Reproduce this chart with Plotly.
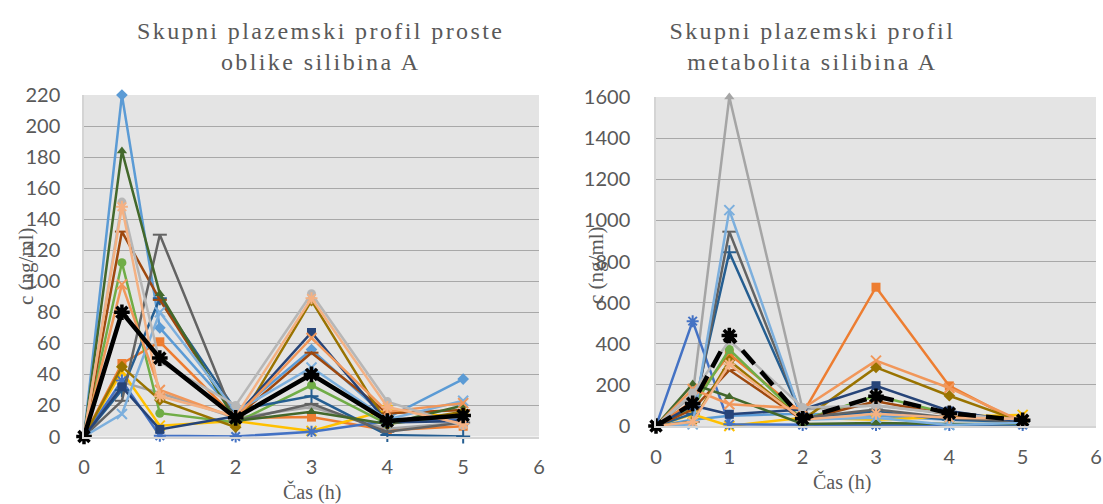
import plotly.graph_objects as go

# sampling times (h)
cas = [0, 0.5, 1, 2, 3, 4, 5]

# free silibin A, individual subjects (ng/ml)
prosta_01 = [0, 220, 70, 15, 56, 12, 37]
prosta_02 = [0, 47, 61, 12, 12.5, 4, 6.6]
prosta_03 = [0, 35, 28, 12, 19, 5, 9]
prosta_04 = [0, 42, 7, 10, 3.5, 17, 12]
prosta_05 = [0, 36, 0.5, 0, 3, 10, 11]
prosta_06 = [0, 112, 15, 9, 33, 8, 14]
prosta_07 = [0, 30, 89, 17, 26, 1, 0]
prosta_08 = [0, 132, 88, 12, 54, 15, 17]
prosta_09 = [0, 23, 130, 10, 21, 3, 9]
prosta_10 = [0, 45, 23.5, 6, 87.5, 8, 16]
prosta_11 = [0, 32, 4.6, 13, 67, 9, 10]
prosta_12 = [0, 184, 92, 10, 16, 8, 20]
prosta_13 = [0, 14.5, 80, 16, 44.5, 11, 23]
prosta_14 = [0, 98, 30, 12, 63.5, 16, 21.5]
prosta_15 = [0, 151, 48, 20, 92, 22.5, 7]
prosta_16 = [0, 148, 26, 13, 89, 19, 8]
prosta_mean = [0, 80, 50.5, 12, 40, 10, 13.5]

# silibin A metabolite, individual subjects (ng/ml)
metabolit_01 = [0, 30, 50, 60, 50, 30, 25]
metabolit_02 = [0, 120, 350, 60, 675, 195, 10]
metabolit_03 = [0, 150, 1600, 80, 100, 60, 30]
metabolit_04 = [0, 57, 0, 40, 30, 45, 54]
metabolit_05 = [0, 510, 8, 5, 5, 5, 5]
metabolit_06 = [0, 90, 372, 30, 147, 60, 20]
metabolit_07 = [0, 60, 845, 40, 70, 30, 20]
metabolit_08 = [0, 80, 272, 30, 120, 55, 25]
metabolit_09 = [0, 20, 945, 40, 80, 40, 20]
metabolit_10 = [0, 20, 318, 30, 285, 147, 20]
metabolit_11 = [0, 100, 57, 80, 196, 73, 20]
metabolit_12 = [0, 204, 142, 10, 15, 10, 10]
metabolit_13 = [0, 8, 1050, 30, 40, 5, 15]
metabolit_14 = [0, 180, 106, 85, 318, 185, 20]
metabolit_15 = [0, 160, 416, 90, 100, 60, 30]
metabolit_16 = [0, 20, 300, 30, 60, 40, 35]
metabolit_mean = [0, 110, 440, 35, 145, 62, 28]

prosta_series = [prosta_01, prosta_02, prosta_03, prosta_04, prosta_05, prosta_06,
                 prosta_07, prosta_08, prosta_09, prosta_10, prosta_11, prosta_12,
                 prosta_13, prosta_14, prosta_15, prosta_16]
metabolit_series = [metabolit_01, metabolit_02, metabolit_03, metabolit_04, metabolit_05,
                    metabolit_06, metabolit_07, metabolit_08, metabolit_09, metabolit_10,
                    metabolit_11, metabolit_12, metabolit_13, metabolit_14, metabolit_15,
                    metabolit_16]

y_ticks_prosta = [0, 20, 40, 60, 80, 100, 120, 140, 160, 180, 200, 220]
y_ticks_metabolit = [0, 200, 400, 600, 800, 1000, 1200, 1400, 1600]
x_ticks = [0, 1, 2, 3, 4, 5, 6]

# Office-style series colours and marker shapes
series_styles = [
    ("#5B9BD5", "diamond"), ("#ED7D31", "square"), ("#A5A5A5", "triangle-up"),
    ("#FFC000", "x-thin-open"), ("#4472C4", "asterisk-open"), ("#70AD47", "circle"),
    ("#255E91", "cross-thin-open"), ("#9E480E", "line-ew-open"), ("#636363", "line-ew-open"),
    ("#997300", "diamond"), ("#264478", "square"), ("#43682B", "triangle-up"),
    ("#7CAFDD", "x-thin-open"), ("#F1975A", "x-thin-open"), ("#B7B7B7", "circle"),
    ("#F4B183", "asterisk-open"),
]

W, H = 1103, 504
TXT = "#595959"
SERIF = "Liberation Serif"
SANS = "Lato"

fig = go.Figure()


def add_panel(series, mean, xa, ya, mean_dash):
    for vals, (col, sym) in zip(series, series_styles):
        open_sym = sym.endswith("open")
        fig.add_trace(go.Scatter(
            x=cas, y=vals, xaxis=xa, yaxis=ya, mode="lines+markers",
            line=dict(color=col, width=2.5),
            marker=dict(symbol=sym, size=10 if open_sym else 9, color=col,
                        line=dict(color=col, width=2 if open_sym else 0)),
            cliponaxis=False, showlegend=False, hoverinfo="skip"))
    fig.add_trace(go.Scatter(
        x=cas, y=mean, xaxis=xa, yaxis=ya, mode="lines+markers",
        line=dict(color="black", width=4.5, dash=mean_dash),
        marker=dict(symbol="asterisk-open", size=13, color="black",
                    line=dict(color="black", width=3.5)),
        cliponaxis=False, showlegend=False, hoverinfo="skip"))


add_panel(prosta_series, prosta_mean, "x", "y", "solid")
add_panel(metabolit_series, metabolit_mean, "x2", "y2", "18px,10px")


def px_x(p):
    return p / W


def px_y(p):
    return 1 - p / H


axis_common = dict(
    showgrid=False, zeroline=False, ticks="", automargin=False,
    tickfont=dict(family=SANS, size=20, color=TXT),
    showline=True, linecolor="#d4d4d4", linewidth=1.5, fixedrange=True,
)
yaxis_common = dict(
    showgrid=True, gridcolor="#a8a8a8", gridwidth=1.3, zeroline=False, ticks="",
    automargin=False,
    tickfont=dict(family=SANS, size=20, color=TXT),
    showline=True, linecolor="#d4d4d4", linewidth=1.5, fixedrange=True,
)

fig.update_layout(
    width=W, height=H, margin=dict(l=0, r=0, t=0, b=0, pad=0),
    paper_bgcolor="white", plot_bgcolor="#e4e4e4",
    xaxis=dict(axis_common, domain=[px_x(84), px_x(539)], range=[0, 6],
               tickvals=x_ticks, anchor="y", ticklabelstandoff=12),
    yaxis=dict(yaxis_common, domain=[px_y(436.5), px_y(95)], range=[0, 220],
               tickvals=y_ticks_prosta, anchor="x", ticklabelstandoff=18),
    xaxis2=dict(axis_common, domain=[px_x(656), px_x(1096)], range=[0, 6],
                tickvals=x_ticks, anchor="y2", ticklabelstandoff=12),
    yaxis2=dict(yaxis_common, domain=[px_y(426), px_y(97)], range=[0, 1600],
                tickvals=y_ticks_metabolit, anchor="x2", ticklabelstandoff=20),
)

title_font = dict(family=SERIF, size=24, color=TXT)
axis_title_font = dict(family=SERIF, size=21, color=TXT)
x_title_font = dict(family=SERIF, size=20, color=TXT)

annotations = [
    dict(text="Skupni plazemski profil proste<br>oblike silibina A",
         x=px_x(320), y=px_y(46), font=title_font),
    dict(text="Skupni plazemski profil<br>metabolita silibina A",
         x=px_x(812), y=px_y(46), font=title_font),
    dict(text="Čas (h)", x=px_x(312), y=px_y(492), font=x_title_font),
    dict(text="Čas (h)", x=px_x(842), y=px_y(482), font=x_title_font),
    dict(text="c (ng/ml)", x=px_x(26), y=px_y(266), font=axis_title_font, textangle=-90),
    dict(text="c (ng/ml)", x=px_x(596), y=px_y(265), font=axis_title_font, textangle=-90),
]
for a in annotations:
    fig.add_annotation(xref="paper", yref="paper", showarrow=False,
                       xanchor="center", yanchor="middle", align="center", **a)

# page without body margin; wider letter spacing on the two chart titles
page_js = """
document.body.style.margin = '0';
document.body.style.overflow = 'hidden';
var gd = document.getElementsByClassName('plotly-graph-div')[0];
function spaceTitles() {
  ['0', '1'].forEach(function (i) {
    var t = gd.querySelector('g.annotation[data-index="' + i + '"] text');
    if (t) { t.style.letterSpacing = '2.4px'; }
  });
}
spaceTitles();
gd.on('plotly_afterplot', spaceTitles);
"""

fig.write_html("out.html", post_script=page_js)
